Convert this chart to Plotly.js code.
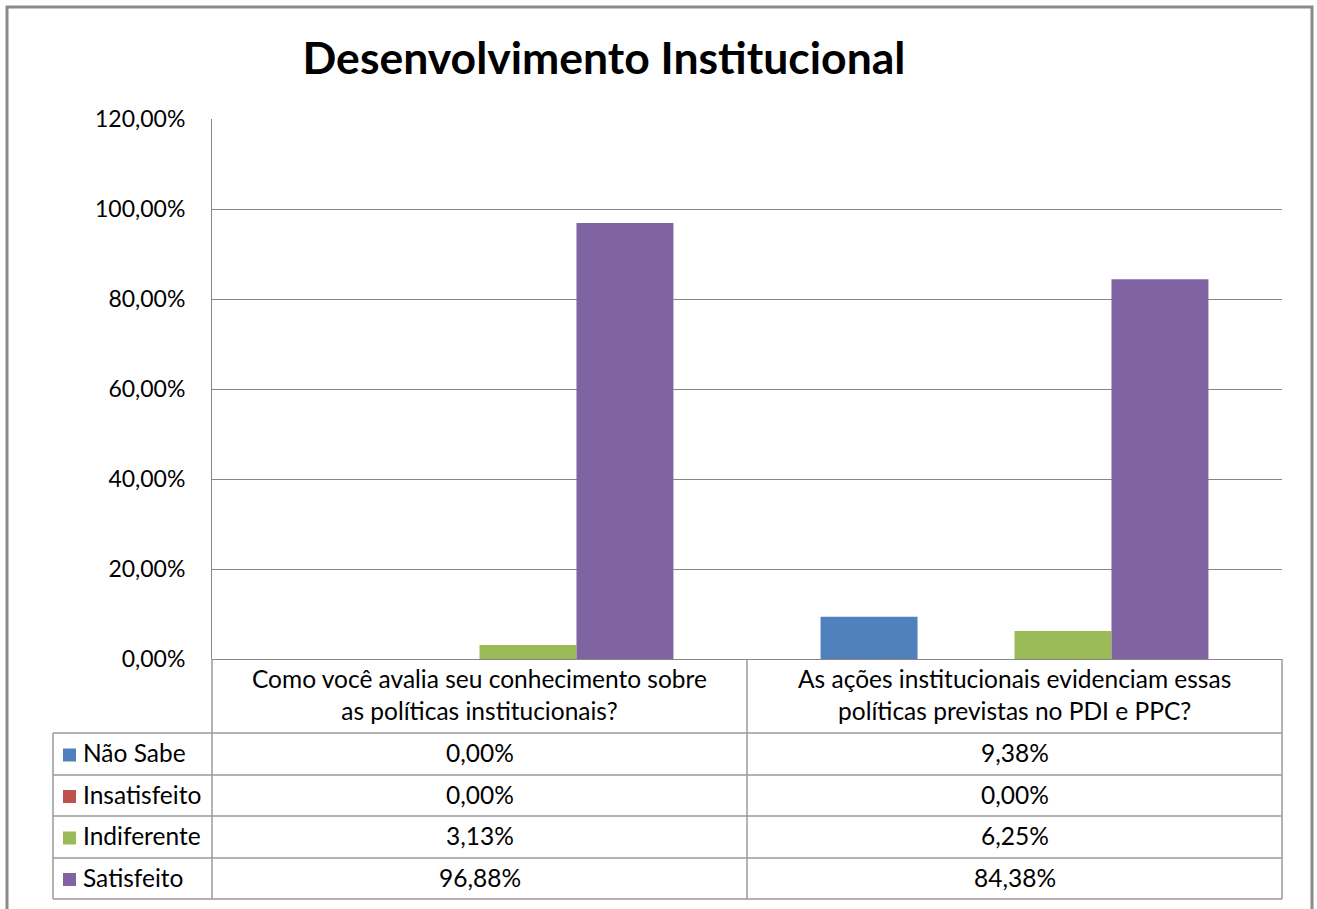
<!DOCTYPE html>
<html><head><meta charset="utf-8">
<script src="https://cdn.plot.ly/plotly-3.0.1.min.js"></script>
<style>body{margin:0;background:#fff}</style>
</head><body><div id="chart" style="width:1317px;height:909px"></div>
<script>
const categories = ["Como você avalia seu conhecimento sobre<br>as políticas institucionais?", "As ações institucionais evidenciam essas<br>políticas previstas no PDI e PPC?"];
const seriesNames = ["Não Sabe", "Insatisfeito", "Indiferente", "Satisfeito"];
const naoSabe = [0.00, 9.38];
const insatisfeito = [0.00, 0.00];
const indiferente = [3.13, 6.25];
const satisfeito = [96.88, 84.38];
const seriesValues = [naoSabe, insatisfeito, indiferente, satisfeito];
const colors = ["#4F81BD", "#C0504D", "#9BBB59", "#8064A2"];
const yTicks = [0, 20, 40, 60, 80, 100, 120];
const titleText = "Desenvolvimento Institucional";

// layout geometry (pixels)
const W = 1317, H = 909, L = 212, R = 1282, T = 119, B = 659;
const px = v => (v - L) / (R - L);
const py = v => (B - v) / (B - T);
const FONT = "Lato, 'Open Sans', sans-serif";
const GRID = "#868686";
const TBL = "#9a9a9a";
const fs = 24.5;

const fmt = v => v.toFixed(2).replace('.', ',') + '%';

const traces = seriesNames.map((n, i) => ({
  type: 'bar', name: n, x: categories, y: seriesValues[i],
  marker: {color: colors[i], line: {width: 0}}, showlegend: false, hoverinfo: 'skip'
}));

const rowTops = [733, 775, 816, 858, 899];
const shapes = [];
const line = (x0, y0, x1, y1, c, w) => shapes.push({type: 'line', xref: 'paper', yref: 'paper',
  x0: px(x0), y0: py(y0), x1: px(x1), y1: py(y1), line: {color: c, width: w}});
// table horizontal lines
rowTops.forEach(y => line(53, y, 1282, y, TBL, 1.5));
// vertical lines
line(53, 733, 53, 899, TBL, 1.5);
line(212, 659, 212, 899, TBL, 1.5);
line(747, 659, 747, 899, TBL, 1.5);
line(1282, 659, 1282, 899, TBL, 1.5);
// outer border
shapes.push({type: 'rect', xref: 'paper', yref: 'paper', x0: px(7), y0: py(7), x1: px(1312), y1: py(930),
  line: {color: '#8a8a8a', width: 3}});

const annotations = [];
// header category labels
categories.forEach(c => annotations.push({xref: 'x', yref: 'paper', x: c, y: py(694.5), text: c,
  showarrow: false, xanchor: 'center', yanchor: 'middle', font: {family: FONT, size: fs, color: '#000'}}));
// rows
seriesNames.forEach((n, i) => {
  const yc = (rowTops[i] + rowTops[i + 1]) / 2;
  shapes.push({type: 'rect', xref: 'paper', yref: 'paper', x0: px(63), x1: px(76), y0: py(yc - 5.5), y1: py(yc + 7.5),
    fillcolor: colors[i], line: {width: 0}});
  annotations.push({xref: 'paper', yref: 'paper', x: px(81), y: py(yc - 1.5), text: n, showarrow: false,
    xanchor: 'left', yanchor: 'middle', font: {family: FONT, size: fs, color: '#000'}});
  categories.forEach((c, j) => annotations.push({xref: 'x', yref: 'paper', x: c, y: py(yc - 1.5),
    text: fmt(seriesValues[i][j]), showarrow: false, xanchor: 'center', yanchor: 'middle',
    font: {family: FONT, size: fs, color: '#000'}}));
});

const layout = {
  width: W, height: H,
  margin: {l: L, r: W - R, t: T, b: H - B, pad: 0},
  paper_bgcolor: '#fff', plot_bgcolor: '#fff',
  separators: ',.',
  title: {text: '<b>' + titleText + '</b>', x: px(604), xref: 'paper', xanchor: 'center',
    y: 1 - 58 / H, yref: 'container', yanchor: 'middle', font: {family: FONT, size: 44.5, color: '#000'}},
  barmode: 'group', bargap: 0.275, bargroupgap: 0,
  xaxis: {type: 'category', showticklabels: false, showgrid: false, zeroline: false, showline: false, ticks: '', fixedrange: true},
  yaxis: {range: [0, 120], tickmode: 'array', tickvals: yTicks, ticktext: yTicks.map(fmt),
    showgrid: true, gridcolor: GRID, gridwidth: 1, zeroline: true, zerolinecolor: GRID, zerolinewidth: 1,
    showline: true, linecolor: GRID, linewidth: 1, ticks: '', ticklabelstandoff: 21,
    tickfont: {family: FONT, size: 23, color: '#000'}, fixedrange: true},
  shapes: shapes, annotations: annotations
};
Plotly.newPlot('chart', traces, layout, {displayModeBar: false, staticPlot: true});
</script></body></html>
